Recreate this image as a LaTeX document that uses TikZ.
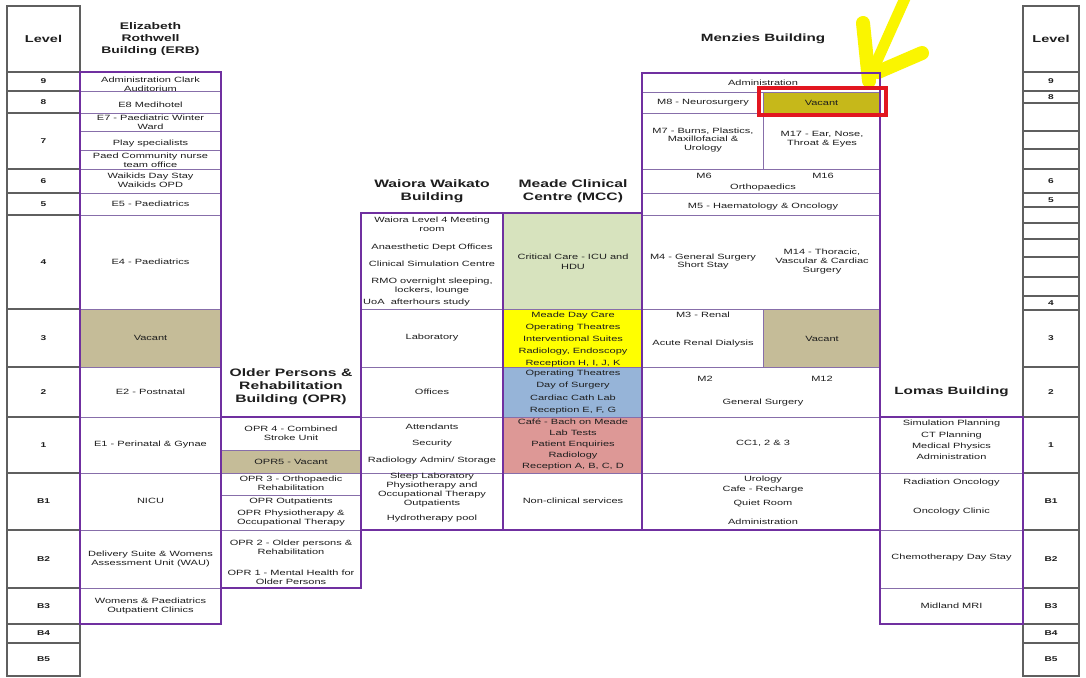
\documentclass[tikz,border=0pt]{standalone}
\usepackage{fontspec}
\setmainfont{Liberation Sans}[FakeStretch=1.45]
\pgfdeclarelayer{bg}
\pgfsetlayers{bg,main}
\definecolor{bpurple}{RGB}{112,48,160}
\definecolor{ipurple}{RGB}{135,110,170}
\definecolor{lvgray}{RGB}{95,95,95}
\definecolor{vacant}{RGB}{197,188,152}
\definecolor{olivev}{RGB}{198,184,26}
\definecolor{mgreen}{RGB}{215,227,190}
\definecolor{myellow}{RGB}{255,255,0}
\definecolor{mblue}{RGB}{150,180,216}
\definecolor{mpink}{RGB}{221,152,150}
\definecolor{redmark}{RGB}{226,22,32}
\definecolor{ymark}{RGB}{250,245,0}
\definecolor{txtc}{RGB}{30,30,30}
\tikzset{
  cellb/.style={draw=ipurple, line width=0.9pt, inner sep=0pt, outer sep=0pt},
  lvlb/.style={draw=lvgray, line width=1.3pt, inner sep=0pt, outer sep=0pt, font=\bfseries\fontsize{7}{8}\selectfont, text=txtc},
  txt/.style={font=\fontsize{7.6}{8.8}\selectfont, align=center, inner sep=0pt, text=txtc},
  hdr/.style={font=\bfseries\fontsize{10.5}{12.5}\selectfont, align=center, inner sep=0pt, text=txtc},
  border/.style={draw=bpurple, line width=2pt},
  ymarkst/.style={draw=ymark, line width=11pt, line cap=round},
}
% style, name, x1, y1, x2, y2, fill, text
\newcommand\mkcell[8]{%
  \pgfmathsetmacro\bw{#5-#3}\pgfmathsetmacro\bh{#6-#4}%
  \node[#1,fill=#7,minimum width=\bw pt,minimum height=\bh pt] (#2) at ({(#3+#5)/2},{(#4+#6)/2}) {#8};}
\begin{document}
\begin{tikzpicture}[x=1pt,y=-1pt]
\useasboundingbox (0,0) rectangle (1086,677);
\begin{pgfonlayer}{bg}
  \fill[white] (0,0) rectangle (1086,677);
  \draw[ymarkst, line width=14pt] (863,23) -- (869,81);
  \draw[ymarkst, line width=11pt] (906,-4) -- (872,72);
  \draw[ymarkst, line width=14pt] (878,72) -- (922,53);
\end{pgfonlayer}

% ---------- Level columns ----------
\mkcell{lvlb}{lvLh}{7}{6}{80}{72}{none}{\fontsize{10}{12}\selectfont Level}
\foreach \ya/\yb/\lab [count=\i] in {72/91/9, 91/113/8, 113/169/7, 169/193/6, 193/215/5, 215/309/4, 309/367/3, 367/417/2, 417/473/1, 473/530/B1, 530/588/B2, 588/624/B3, 624/643/B4, 643/676/B5}{
  \mkcell{lvlb}{lvL\i}{7}{\ya}{80}{\yb}{none}{\lab}
}
\mkcell{lvlb}{lvRh}{1023}{6}{1079}{72}{none}{\fontsize{10}{12}\selectfont Level}
\foreach \ya/\yb/\lab [count=\i] in {72/91/9, 91/103/8, 103/131/{}, 131/149/{}, 149/169/{}, 169/193/6, 193/207/5, 207/223/{}, 223/239/{}, 239/257/{}, 257/277/{}, 277/296/{}, 296/310/4, 310/367/3, 367/417/2, 417/473/1, 473/530/B1, 530/588/B2, 588/624/B3, 624/643/B4, 643/676/B5}{
  \mkcell{lvlb}{lvR\i}{1023}{\ya}{1079}{\yb}{none}{\lab}
}

% ---------- ERB ----------
\mkcell{cellb}{e9}{80}{72}{221}{91}{none}{}
\mkcell{cellb}{e8}{80}{91}{221}{113}{none}{}
\mkcell{cellb}{e7a}{80}{113}{221}{131}{none}{}
\mkcell{cellb}{e7b}{80}{131}{221}{150}{none}{}
\mkcell{cellb}{e7c}{80}{150}{221}{169}{none}{}
\mkcell{cellb}{e6}{80}{169}{221}{193}{none}{}
\mkcell{cellb}{e5}{80}{193}{221}{215}{none}{}
\mkcell{cellb}{e4}{80}{215}{221}{309}{none}{}
\mkcell{cellb}{e3}{80}{309}{221}{367}{vacant}{}
\mkcell{cellb}{e2}{80}{367}{221}{417}{none}{}
\mkcell{cellb}{e1}{80}{417}{221}{473}{none}{}
\mkcell{cellb}{eB1}{80}{473}{221}{530}{none}{}
\mkcell{cellb}{eB2}{80}{530}{221}{588}{none}{}
\mkcell{cellb}{eB3}{80}{588}{221}{624}{none}{}

% ---------- OPR ----------
\mkcell{cellb}{o1a}{221}{417}{361}{450}{none}{}
\mkcell{cellb}{o1b}{221}{450}{361}{473}{vacant}{}
\mkcell{cellb}{oB1a}{221}{473}{361}{495}{none}{}
\mkcell{cellb}{oB1b}{221}{495}{361}{530}{none}{}
\mkcell{cellb}{oB2}{221}{530}{361}{588}{none}{}

% ---------- Waiora ----------
\mkcell{cellb}{w4}{361}{213}{503}{309}{none}{}
\mkcell{cellb}{w3}{361}{309}{503}{367}{none}{}
\mkcell{cellb}{w2}{361}{367}{503}{417}{none}{}
\mkcell{cellb}{w1}{361}{417}{503}{473}{none}{}
\mkcell{cellb}{wB1}{361}{473}{503}{530}{none}{}

% ---------- MCC ----------
\mkcell{cellb}{m4}{503}{213}{642}{309}{mgreen}{}
\mkcell{cellb}{m3}{503}{309}{642}{367}{myellow}{}
\mkcell{cellb}{m2}{503}{367}{642}{417}{mblue}{}
\mkcell{cellb}{m1}{503}{417}{642}{473}{mpink}{}
\mkcell{cellb}{mB1}{503}{473}{642}{530}{none}{}

% ---------- Menzies ----------
\mkcell{cellb}{z9}{642}{73}{880}{92}{none}{}
\mkcell{cellb}{z8a}{642}{92}{763}{113}{none}{}
\mkcell{cellb}{z8b}{763}{92}{880}{113}{olivev}{}
\mkcell{cellb}{z7a}{642}{113}{763}{169}{none}{}
\mkcell{cellb}{z7b}{763}{113}{880}{169}{none}{}
\mkcell{cellb}{z6}{642}{169}{880}{193}{none}{}
\mkcell{cellb}{z5}{642}{193}{880}{215}{none}{}
\mkcell{cellb}{z4}{642}{215}{880}{309}{none}{}
\mkcell{cellb}{z3a}{642}{309}{763}{367}{none}{}
\mkcell{cellb}{z3b}{763}{309}{880}{367}{vacant}{}
\mkcell{cellb}{z2}{642}{367}{880}{417}{none}{}
\mkcell{cellb}{z1}{642}{417}{880}{473}{none}{}
\mkcell{cellb}{zB1}{642}{473}{880}{530}{none}{}

% ---------- Lomas ----------
\mkcell{cellb}{l1}{880}{417}{1023}{473}{none}{}
\mkcell{cellb}{lB1}{880}{473}{1023}{530}{none}{}
\mkcell{cellb}{lB2}{880}{530}{1023}{588}{none}{}
\mkcell{cellb}{lB3}{880}{588}{1023}{624}{none}{}

% ---------- building borders ----------
\draw[border] (80,72) rectangle (221,624);
\draw[border] (221,417) rectangle (361,588);
\draw[border] (361,213) rectangle (503,530);
\draw[border] (503,213) rectangle (642,530);
\draw[border] (642,73) rectangle (880,530);
\draw[border] (880,417) rectangle (1023,624);

% highlight
\node[draw=redmark, line width=4pt, inner sep=0pt, minimum width=127pt, minimum height=27pt] (mark) at (822,101.5) {};

% ---------- headers ----------
\node[hdr, font=\bfseries\fontsize{9.6}{12}\selectfont] (hERB) at (150.5,39) {Elizabeth\\Rothwell\\Building (ERB)};
\node[hdr, font=\bfseries\fontsize{10.8}{13}\selectfont] (hOPR) at (291,387) {Older Persons \&\\Rehabilitation\\Building (OPR)};
\node[hdr, font=\bfseries\fontsize{10.8}{13}\selectfont] (hW) at (432,191) {Waiora Waikato\\Building};
\node[hdr, font=\bfseries\fontsize{10.8}{13}\selectfont] (hM) at (573,191) {Meade Clinical\\Centre (MCC)};
\node[hdr] (hZ) at (763,39) {Menzies Building};
\node[hdr] (hL) at (951.5,392) {Lomas Building};

% ---------- ERB texts ----------
\node[txt] (te9) at (150.5,84) {Administration Clark\\Auditorium};
\node[txt] (te8) at (150.5,105) {E8 Medihotel};
\node[txt] (te7a) at (150.5,122) {E7 - Paediatric Winter\\Ward};
\node[txt] (te7b) at (150.5,144) {Play specialists};
\node[txt] (te7c) at (150.5,160) {Paed Community nurse\\team office};
\node[txt] (te6) at (150.5,180.5) {Waikids Day Stay\\Waikids OPD};
\node[txt] (te5) at (150.5,204) {E5 - Paediatrics};
\node[txt] (te4) at (150.5,262) {E4 - Paediatrics};
\node[txt] (te3) at (150.5,338) {Vacant};
\node[txt] (te2) at (150.5,392) {E2 - Postnatal};
\node[txt] (te1) at (150.5,445) {E1 - Perinatal \& Gynae};
\node[txt] (teB1) at (150.5,501) {NICU};
\node[txt] (teB2) at (150.5,559) {Delivery Suite \& Womens\\Assessment Unit (WAU)};
\node[txt] (teB3) at (150.5,606) {Womens \& Paediatrics\\Outpatient Clinics};

% ---------- OPR texts ----------
\node[txt] (to1a) at (291,433) {OPR 4 - Combined\\Stroke Unit};
\node[txt] (to1b) at (291,461.5) {OPR5 - Vacant};
\node[txt] (toB1a) at (291,483) {OPR 3 - Orthopaedic\\Rehabilitation};
\node[txt] (toB1b) at (291,512) {OPR Outpatients\\[4pt]OPR Physiotherapy \&\\Occupational Therapy};
\node[txt] (toB2) at (291,562.5) {OPR 2 - Older persons \&\\Rehabilitation\\[12.5pt]OPR 1 - Mental Health for\\Older Persons};

% ---------- Waiora texts ----------
\node[txt] (tw4) at (432,255.5) {Waiora Level 4 Meeting\\room\\[10pt]Anaesthetic Dept Offices\\[8pt]Clinical Simulation Centre\\[8.5pt]RMO overnight sleeping,\\lockers, lounge};
\node[txt, anchor=west] (tw4b) at (363,303) {UoA\ \ afterhours study};
\node[txt] (tw3) at (432,338) {Laboratory};
\node[txt] (tw2) at (432,392) {Offices};
\node[txt] (tw1) at (432,444) {Attendants\\[7.7pt]Security\\[7.7pt]Radiology Admin/ Storage};
\node[txt] (twB1) at (432,497.5) {Sleep Laboratory\\Physiotherapy and\\Occupational Therapy\\Outpatients\\[6.2pt]Hydrotherapy pool};

% ---------- MCC texts ----------
\node[txt, font=\fontsize{7.6}{10}\selectfont] (tm4) at (573,262) {Critical Care - ICU and\\HDU};
\node[txt] (tm3) at (573,339.5) {Meade Day Care\\[3pt]Operating Theatres\\[3pt]Interventional Suites\\[3pt]Radiology, Endoscopy\\[3pt]Reception H, I, J, K};
\node[txt] (tm2) at (573,392) {Operating Theatres\\[3.8pt]Day of Surgery\\[3.8pt]Cardiac Cath Lab\\[3.8pt]Reception E, F, G};
\node[txt] (tm1) at (573,444.5) {Café - Bach on Meade\\[2pt]Lab Tests\\[2pt]Patient Enquiries\\[2pt]Radiology\\[2pt]Reception A, B, C, D};
\node[txt] (tmB1) at (573,501) {Non-clinical services};

% ---------- Menzies texts ----------
\node[txt] (tz9) at (763,82.5) {Administration};
\node[txt] (tz8a) at (703,102.5) {M8 - Neurosurgery};
\node[txt] (tz8b) at (821.5,102.5) {Vacant};
\node[txt] (tz7a) at (703,140) {M7 - Burns, Plastics,\\Maxillofacial \&\\Urology};
\node[txt] (tz7b) at (822,139.5) {M17 - Ear, Nose,\\Throat \& Eyes};
\node[txt] (tz6a) at (704,176) {M6};
\node[txt] (tz6b) at (823,176) {M16};
\node[txt] (tz6c) at (763,188) {Orthopaedics};
\node[txt] (tz5) at (763,207) {M5 - Haematology \& Oncology};
\node[txt] (tz4a) at (703,261.5) {M4 - General Surgery\\Short Stay};
\node[txt] (tz4b) at (822,261.5) {M14 - Thoracic,\\Vascular \& Cardiac\\Surgery};
\node[txt] (tz3a) at (703,315) {M3 - Renal};
\node[txt] (tz3c) at (703,344) {Acute Renal Dialysis};
\node[txt] (tz3b) at (822,338.5) {Vacant};
\node[txt] (tz2a) at (705,379) {M2};
\node[txt] (tz2b) at (822,379) {M12};
\node[txt] (tz2c) at (763,403) {General Surgery};
\node[txt] (tz1) at (763,443) {CC1, 2 \& 3};
\node[txt] (tzB1) at (763,500) {Urology\\[2pt]Cafe - Recharge\\[5pt]Quiet Room\\[10pt]Administration};

% ---------- Lomas texts ----------
\node[txt] (tl1) at (951.5,440) {Simulation Planning\\[2.5pt]CT Planning\\[2.5pt]Medical Physics\\[2.5pt]Administration};
\node[txt] (tlB1) at (951.5,497) {Radiation Oncology\\[21pt]Oncology Clinic};
\node[txt] (tlB2) at (951.5,558) {Chemotherapy Day Stay};
\node[txt] (tlB3) at (951.5,605.5) {Midland MRI};
\end{tikzpicture}
\end{document}
